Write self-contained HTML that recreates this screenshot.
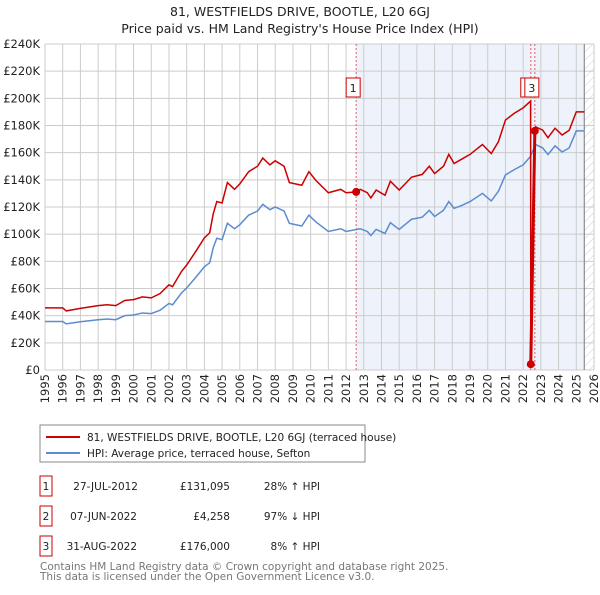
<!DOCTYPE html>
<html><head><meta charset="utf-8">
<style>
body{margin:0;background:#fff;font-family:"Liberation Sans","DejaVu Sans",sans-serif;}
svg text{font-family:"DejaVu Sans","Liberation Sans",sans-serif;}
</style></head>
<body>
<svg id="chart" width="600" height="590" viewBox="0 0 600 590">
<defs>
<pattern id="hatch" width="6" height="6" patternUnits="userSpaceOnUse" patternTransform="rotate(45)">
<line x1="0" y1="0" x2="0" y2="6" stroke="#ccc" stroke-width="1"/>
</pattern>
</defs>
<text x="300" y="16" text-anchor="middle" font-size="12.5" fill="#222">81, WESTFIELDS DRIVE, BOOTLE, L20 6GJ</text>
<text x="300" y="33" text-anchor="middle" font-size="12.5" fill="#222">Price paid vs. HM Land Registry's House Price Index (HPI)</text>
<g id="plot"></g>
<rect x="40" y="425" width="325" height="37" fill="#fff" stroke="#888"/>
<line x1="46" y1="437" x2="80" y2="437" stroke="#cc0000" stroke-width="2"/>
<text x="87" y="441" font-size="10.5" fill="#222">81, WESTFIELDS DRIVE, BOOTLE, L20 6GJ (terraced house)</text>
<line x1="46" y1="453" x2="80" y2="453" stroke="#5b8ccf" stroke-width="2"/>
<text x="87" y="457" font-size="10.5" fill="#222">HPI: Average price, terraced house, Sefton</text>
<g font-size="10.5" fill="#222">
<rect x="40" y="476" width="12" height="20" fill="#fff" stroke="#cc0000"/><text x="46" y="490" text-anchor="middle">1</text>
<text x="138" y="490" text-anchor="end">27-JUL-2012</text><text x="230" y="490" text-anchor="end">£131,095</text><text x="320" y="490" text-anchor="end">28% ↑ HPI</text>
<rect x="40" y="506" width="12" height="20" fill="#fff" stroke="#cc0000"/><text x="46" y="520" text-anchor="middle">2</text>
<text x="137" y="520" text-anchor="end">07-JUN-2022</text><text x="230" y="520" text-anchor="end">£4,258</text><text x="320" y="520" text-anchor="end">97% ↓ HPI</text>
<rect x="40" y="536" width="12" height="20" fill="#fff" stroke="#cc0000"/><text x="46" y="550" text-anchor="middle">3</text>
<text x="137" y="550" text-anchor="end">31-AUG-2022</text><text x="230" y="550" text-anchor="end">£176,000</text><text x="320" y="550" text-anchor="end">8% ↑ HPI</text>
</g>
<text x="40" y="570" font-size="10.5" fill="#777">Contains HM Land Registry data © Crown copyright and database right 2025.</text>
<text x="40" y="580" font-size="10.5" fill="#777">This data is licensed under the Open Government Licence v3.0.</text>
</svg>
<script>
const hpiYears=[1995,1996,1996.2,1997,1998,1998.5,1999,1999.5,2000,2000.5,2001,2001.5,2002,2002.2,2002.7,2003,2003.5,2004,2004.3,2004.5,2004.7,2005,2005.3,2005.7,2006,2006.5,2007,2007.3,2007.7,2008,2008.5,2008.8,2009.5,2009.9,2010.3,2011,2011.7,2012,2012.8,2013.2,2013.4,2013.7,2014.2,2014.5,2015,2015.7,2016.3,2016.7,2017,2017.5,2017.8,2018.1,2018.5,2019,2019.7,2020.2,2020.6,2021,2021.5,2022,2022.4,2022.7,2023.1,2023.4,2023.8,2024.2,2024.6,2025,2025.45];
const hpiValues=[35.7,35.7,34,35.5,37,37.5,37,40,40.5,42,41.5,44,49,48,56.6,60.4,68,76,79,90,97,96,108,104,107,114,117,122,118,120,117,108,106,114,109,102,104,102,104,102,99,103.5,100.5,108.5,103.5,111,112.5,117.5,113,117.5,124,119,121,124,130,124.5,131.5,143.6,147.5,151,157,166,163.5,158.6,165,160.5,163.5,176,176];
const priceYears=[1995,1996,1996.2,1997,1998,1998.5,1999,1999.5,2000,2000.5,2001,2001.5,2002,2002.2,2002.7,2003,2003.5,2004,2004.3,2004.5,2004.7,2005,2005.3,2005.7,2006,2006.5,2007,2007.3,2007.7,2008,2008.5,2008.8,2009.5,2009.9,2010.3,2011,2011.7,2012,2012.57,2012.8,2013.2,2013.4,2013.7,2014.2,2014.5,2015,2015.7,2016.3,2016.7,2017,2017.5,2017.8,2018.1,2018.5,2019,2019.7,2020.2,2020.6,2021,2021.5,2022,2022.42,2022.43,2022.66,2022.7,2023.1,2023.4,2023.8,2024.2,2024.6,2025,2025.45];
const priceValues=[45.7,45.7,43.5,45.4,47.4,48,47.4,51.2,51.8,53.8,53.1,56.3,62.7,61.4,72.4,77.3,87,97.3,101,115,124,123,138,133,137,146,150,156,151,154,150,138,136,146,139.5,130.5,133,130.5,131.1,133,130.5,126.7,132.5,128.6,139,132.5,142,144,150,144.6,150,158.7,152,155,158.7,166,159.4,168,184,189,193,198,4.258,176,179,176.6,171,178,173,176.5,190,190];
const yTicks=[0,20,40,60,80,100,120,140,160,180,200,220,240];
const yTickLabels=["£0","£20K","£40K","£60K","£80K","£100K","£120K","£140K","£160K","£180K","£200K","£220K","£240K"];
const xTicks=[1995,1996,1997,1998,1999,2000,2001,2002,2003,2004,2005,2006,2007,2008,2009,2010,2011,2012,2013,2014,2015,2016,2017,2018,2019,2020,2021,2022,2023,2024,2025,2026];
const saleYears=[2012.57,2022.43,2022.66];
const saleValues=[131.095,4.258,176];
const saleLabels=["1","2","3"];
const dataEnd=2025.45;

const X0=45,X1=594,Y0=370,Y1=44;
const x=v=>X0+(v-1995)/(2026-1995)*(X1-X0);
const y=v=>Y0-(v/240)*(Y0-Y1);
const NS="http://www.w3.org/2000/svg";
const g=document.getElementById('plot');
function mk(t,a){const e=document.createElementNS(NS,t);for(const k in a)e.setAttribute(k,a[k]);g.appendChild(e);return e;}

let e=mk('rect',{x:x(saleYears[0]),y:Y1,width:x(dataEnd)-x(saleYears[0]),height:Y0-Y1,fill:'#eef2fb'});


e=mk('rect',{x:x(dataEnd),y:Y1,width:X1-x(dataEnd),height:Y0-Y1,fill:'url(#hatch)'});


yTicks.forEach((t,i)=>{
  e=mk('line',{x1:X0,x2:X1,y1:y(t),y2:y(t),stroke:'#ccc','stroke-width':1});
  
  
  e=mk('text',{x:40,y:y(t)+4,'text-anchor':'end','font-size':'11.5',fill:'#222'});
  e.textContent=yTickLabels[i];
  
  
});
xTicks.forEach(t=>{
  e=mk('line',{x1:x(t),x2:x(t),y1:Y1,y2:Y0,stroke:'#ccc','stroke-width':1});
  
  
  e=mk('text',{x:0,y:0,'text-anchor':'end','font-size':'11.5',fill:'#222',transform:`translate(${x(t)+4},374) rotate(-90)`});
  e.textContent=t;
  
  
});
e=mk('line',{x1:x(dataEnd),x2:x(dataEnd),y1:Y1,y2:Y0,stroke:'#777','stroke-width':1});


saleYears.forEach(s=>{
  e=mk('line',{x1:x(s),x2:x(s),y1:Y1,y2:Y0,stroke:'#e06060','stroke-width':1,'stroke-dasharray':'2,2'});
  
  
});
e=mk('polyline',{points:hpiYears.map((v,i)=>x(v)+','+y(hpiValues[i])).join(' '),fill:'none',stroke:'#5b8ccf','stroke-width':1.5});


e=mk('polyline',{points:priceYears.map((v,i)=>x(v)+','+y(priceValues[i])).join(' '),fill:'none',stroke:'#cc0000','stroke-width':1.5});


e=mk('line',{x1:x(saleYears[1]),y1:y(saleValues[1]),x2:x(saleYears[2]),y2:y(saleValues[2]),stroke:'#cc0000','stroke-width':3});


saleYears.forEach((s,i)=>{
  e=mk('circle',{cx:x(s),cy:y(saleValues[i]),r:4,fill:'#cc0000'});
  
  
});
[1,2,0].forEach(i=>{
  const cx=x(saleYears[i])-3;
  e=mk('rect',{x:cx-7,y:78,width:14,height:19,fill:'#fff',stroke:'#cc0000'});
  
  
  e=mk('text',{x:cx,y:92,'text-anchor':'middle','font-size':'11',fill:'#222'});
  e.textContent=saleLabels[i];
  
  
});
</script>
</body></html>
